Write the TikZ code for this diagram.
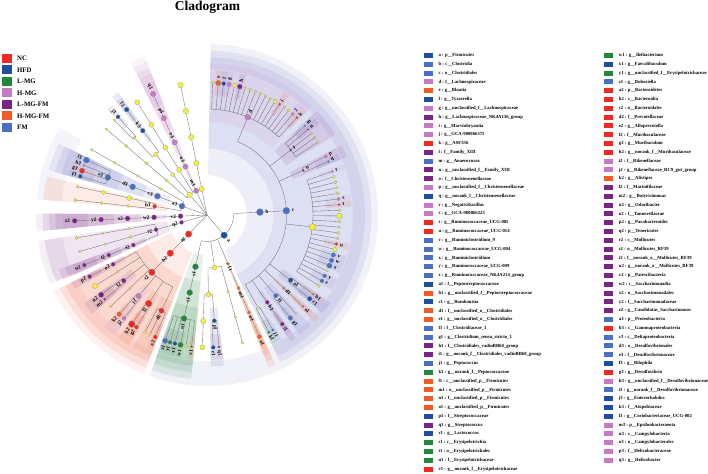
\documentclass[tikz,border=0pt]{standalone}
\usepackage{fontspec}
\setmainfont{Liberation Serif}
\usetikzlibrary{calc}
\pgfdeclarelayer{bgw}
\pgfdeclarelayer{sect}
\pgfdeclarelayer{bg}
\pgfsetlayers{bgw,sect,bg,main}
\definecolor{cNC}{HTML}{EE2A24}
\definecolor{cHFD}{HTML}{1F4E9E}
\definecolor{cLMG}{HTML}{22873A}
\definecolor{cHMG}{HTML}{C27BC4}
\definecolor{cLMGFM}{HTML}{7A2487}
\definecolor{cHMGFM}{HTML}{F15A29}
\definecolor{cFM}{HTML}{4A70C2}
\definecolor{cY}{HTML}{F2F23A}
% sector tints
\definecolor{sNC}{HTML}{EE4A26}
\definecolor{sFM}{HTML}{6468C4}
\definecolor{sHFD}{HTML}{3A46A0}
\tikzset{
 tnode/.style={circle,draw=black!45,line width=0.2pt,inner sep=0pt},
 edge/.style={draw=black!55,line width=0.35pt},
 lab/.style={font=\bfseries\fontsize{5.2}{5.8}\selectfont,inner sep=0.2pt,text=black},
 sec/.style={opacity=0.11},
 secp/.style={opacity=0.07},
 lgsw/.style={rectangle,inner sep=0pt,minimum width=9pt,minimum height=5pt},
 lgtext/.style={font=\bfseries\fontsize{4.7}{5.3}\selectfont,anchor=west,inner sep=0pt},
 grsw/.style={rectangle,inner sep=0pt,minimum width=10pt,minimum height=9pt},
 grtext/.style={font=\bfseries\fontsize{6.8}{8}\selectfont,anchor=west,inner sep=0pt},
}
% tree node + radial edge from parent arc
\newcommand\Tn[5]{\node[tnode,fill=#5,minimum size=#4*2pt] (#1) at (#2:{26.5*#3}) {};%
 \begin{pgfonlayer}{bg}\coordinate (#1-j) at (#2:{26.5*(#3-1)});\draw[edge] (#1-j) -- (#1);\end{pgfonlayer}}
\newcommand\Tl[3]{\ifdim #2pt<90pt \node[lab,rotate={0-(#2)},anchor=west] (L#1) at (#2:{#3}) {#1};%
 \else \node[lab,rotate={180-(#2)},anchor=east] (L#1) at (#2:{#3}) {#1};\fi}
\newcommand\Sig[5]{\Tn{#1}{#2}{#3}{#4}{#5}\Tl{#1}{#2}{26.5*#3+#4+1.8}}
\newcommand\Yel[4]{\Tn{#1}{#2}{#3}{#4}{cY}}
\newcommand\Ar[3]{\begin{pgfonlayer}{bg}\draw[edge] (#1:{26.5*#3}) arc[start angle=#1,end angle=#2,radius={26.5*#3}];\end{pgfonlayer}}
\newcommand\SecR[6]{\begin{pgfonlayer}{sect}\fill[#1,#6] ({#2}:{#4}) arc[start angle={#2},end angle={#3},radius={#4}] -- ({#3}:{#5}) arc[start angle={#3},end angle={#2},radius={#5}] -- cycle;\end{pgfonlayer}}
\newcommand\Sec[4]{\SecR{#1}{#2}{#3}{max(26.5*#4-13,40)}{145+(5-#4)*6.5}{sec}}
\newcommand\Gs[2]{\Sec{#1}{#2-1.2}{#2+1.2}{5}}
\newcommand\SecP[3]{\SecR{#1}{#2}{#3}{146}{171}{secp}}
\begin{document}
\begin{tikzpicture}[x=1pt,y=-1pt]
\begin{pgfonlayer}{bgw}\fill[white] (0,0) rectangle (708,473);\end{pgfonlayer}
\useasboundingbox (0,0) rectangle (708,473);
\node[font=\bfseries\fontsize{13.5}{15}\selectfont,inner sep=0pt] (title) at (207.5,7) {Cladogram};
% group legend
\foreach \c/\t [count=\i from 0] in {cNC/NC,cHFD/HFD,cLMG/L-MG,cHMG/H-MG,cLMGFM/L-MG-FM,cHMGFM/H-MG-FM,cFM/FM}{
 \node[grsw,fill=\c] (gs\i) at (7,58.3+11.5*\i) {};
 \node[grtext] (gt\i) at (17,58.3+11.5*\i) {\t};
}
% taxon legend, column 1
\foreach \c/\t [count=\i from 0] in {
cHFD/{a : p\_\_Firmicutes},
cFM/{b : c\_\_Clostridia},
cFM/{c : o\_\_Clostridiales},
cHMG/{d : f\_\_Lachnospiraceae},
cHMGFM/{e : g\_\_Blautia},
cHFD/{f : g\_\_Tyzzerella},
cHMG/{g : g\_\_unclassified\_f\_\_Lachnospiraceae},
cLMGFM/{h : g\_\_Lachnospiraceae\_NK4A136\_group},
cHMG/{i : g\_\_Marvinbryantia},
cHMG/{j : g\_\_GCA-900066575},
cNC/{k : g\_\_ASF356},
cLMGFM/{l : f\_\_Family\_XIII},
cFM/{m : g\_\_Anaerovorax},
cLMGFM/{n : g\_\_unclassified\_f\_\_Family\_XIII},
cLMGFM/{o : f\_\_Christensenellaceae},
cHMG/{p : g\_\_unclassified\_f\_\_Christensenellaceae},
cHFD/{q : g\_\_norank\_f\_\_Christensenellaceae},
cHMG/{r : g\_\_Negativibacillus},
cHMG/{s : g\_\_GCA-900066225},
cNC/{t : g\_\_Ruminococcaceae\_UCG-005},
cNC/{u : g\_\_Ruminococcaceae\_UCG-014},
cFM/{v : g\_\_Ruminiclostridium\_9},
cFM/{w : g\_\_Ruminococcaceae\_UCG-004},
cFM/{x : g\_\_Ruminiclostridium},
cFM/{y : g\_\_Ruminococcaceae\_UCG-009},
cFM/{z : g\_\_Ruminococcaceae\_NK4A214\_group},
cHFD/{a1 : f\_\_Peptostreptococcaceae},
cHMGFM/{b1 : g\_\_unclassified\_f\_\_Peptostreptococcaceae},
cHFD/{c1 : g\_\_Romboutsia},
cHMGFM/{d1 : f\_\_unclassified\_o\_\_Clostridiales},
cHMGFM/{e1 : g\_\_unclassified\_o\_\_Clostridiales},
cFM/{f1 : f\_\_Clostridiaceae\_1},
cFM/{g1 : g\_\_Clostridium\_sensu\_stricto\_1},
cLMGFM/{h1 : f\_\_Clostridiales\_vadinBB60\_group},
cLMGFM/{i1 : g\_\_norank\_f\_\_Clostridiales\_vadinBB60\_group},
cFM/{j1 : g\_\_Peptococcus},
cLMG/{k1 : g\_\_norank\_f\_\_Peptococcaceae},
cHMGFM/{l1 : c\_\_unclassified\_p\_\_Firmicutes},
cHMGFM/{m1 : o\_\_unclassified\_p\_\_Firmicutes},
cHMGFM/{n1 : f\_\_unclassified\_p\_\_Firmicutes},
cHMGFM/{o1 : g\_\_unclassified\_p\_\_Firmicutes},
cHFD/{p1 : f\_\_Streptococcaceae},
cLMGFM/{q1 : g\_\_Streptococcus},
cHFD/{r1 : g\_\_Lactococcus},
cLMG/{s1 : c\_\_Erysipelotrichia},
cLMG/{t1 : o\_\_Erysipelotrichales},
cLMG/{u1 : f\_\_Erysipelotrichaceae},
cNC/{v1 : g\_\_norank\_f\_\_Erysipelotrichaceae}}{
 \node[lgsw,fill=\c] (ls\i) at (428,55.5+8.8*\i) {};
 \node[lgtext] (lt\i) at (438.3,55.5+8.8*\i) {\t};
}
% taxon legend, column 2
\foreach \c/\t [count=\i from 0] in {
cLMG/{w1 : g\_\_Ileibacterium},
cHFD/{x1 : g\_\_Faecalibaculum},
cLMG/{y1 : g\_\_unclassified\_f\_\_Erysipelotrichaceae},
cFM/{z1 : g\_\_Dubosiella},
cNC/{a2 : p\_\_Bacteroidetes},
cNC/{b2 : c\_\_Bacteroidia},
cNC/{c2 : o\_\_Bacteroidales},
cNC/{d2 : f\_\_Prevotellaceae},
cNC/{e2 : g\_\_Alloprevotella},
cNC/{f2 : f\_\_Muribaculaceae},
cNC/{g2 : g\_\_Muribaculum},
cNC/{h2 : g\_\_norank\_f\_\_Muribaculaceae},
cHMG/{i2 : f\_\_Rikenellaceae},
cHMG/{j2 : g\_\_Rikenellaceae\_RC9\_gut\_group},
cHMGFM/{k2 : g\_\_Alistipes},
cLMGFM/{l2 : f\_\_Marinifilaceae},
cLMGFM/{m2 : g\_\_Butyricimonas},
cLMGFM/{n2 : g\_\_Odoribacter},
cLMGFM/{o2 : f\_\_Tannerellaceae},
cLMGFM/{p2 : g\_\_Parabacteroides},
cLMGFM/{q2 : p\_\_Tenericutes},
cLMGFM/{r2 : c\_\_Mollicutes},
cLMGFM/{s2 : o\_\_Mollicutes\_RF39},
cLMGFM/{t2 : f\_\_norank\_o\_\_Mollicutes\_RF39},
cLMGFM/{u2 : g\_\_norank\_o\_\_Mollicutes\_RF39},
cLMGFM/{v2 : p\_\_Patescibacteria},
cLMGFM/{w2 : c\_\_Saccharimonadia},
cLMGFM/{x2 : o\_\_Saccharimonadales},
cLMGFM/{y2 : f\_\_Saccharimonadaceae},
cLMGFM/{z2 : g\_\_Candidatus\_Saccharimonas},
cFM/{a3 : p\_\_Proteobacteria},
cNC/{b3 : c\_\_Gammaproteobacteria},
cFM/{c3 : c\_\_Deltaproteobacteria},
cFM/{d3 : o\_\_Desulfovibrionales},
cFM/{e3 : f\_\_Desulfovibrionaceae},
cHFD/{f3 : g\_\_Bilophila},
cNC/{g3 : g\_\_Desulfovibrio},
cHMG/{h3 : g\_\_unclassified\_f\_\_Desulfovibrionaceae},
cFM/{i3 : g\_\_norank\_f\_\_Desulfovibrionaceae},
cHFD/{j3 : g\_\_Enterorhabdus},
cHFD/{k3 : f\_\_Atopobiaceae},
cHFD/{l3 : g\_\_Coriobacteriaceae\_UCG-002},
cHMG/{m3 : p\_\_Epsilonbacteraeota},
cHMG/{n3 : c\_\_Campylobacteria},
cHMG/{o3 : o\_\_Campylobacterales},
cHMG/{p3 : f\_\_Helicobacteraceae},
cHMG/{q3 : g\_\_Helicobacter}}{
 \node[lgsw,fill=\c] (ms\i) at (608.7,55.5+8.8*\i) {};
 \node[lgtext] (mt\i) at (618.7,55.5+8.8*\i) {\t};
}
\begin{scope}[shift={(207,215)}]
\coordinate (C) at (0,0);
% ---------------- shaded sectors
\SecP{sHFD}{-88.7}{109.6}
\Sec{sFM}{-88.7}{63.4}{2}\Sec{sFM}{-88.7}{63.4}{3}
\Sec{cHMG}{-88.7}{-46.1}{4}
\Gs{cHMGFM}{-85.135}\Gs{sHFD}{-82.77}\Gs{cHMG}{-80.405}\Gs{cLMGFM}{-75.675}
\Gs{sNC}{-56.755}\Gs{cHMG}{-49.66}\Gs{sNC}{-47.3}
\Sec{cLMGFM}{-43.5}{-32.1}{4}\Gs{sFM}{-42.3}\Gs{cLMGFM}{-40.3}
\Sec{cLMGFM}{-27.4}{-22.6}{4}\Gs{cHMG}{-26.2}\Gs{sHFD}{-23.8}
\Gs{cHMG}{-19.2}\Gs{cHMG}{-6.95}\Gs{sNC}{-4.5}\Gs{sNC}{12.65}
\Gs{sFM}{17.55}\Gs{sFM}{20}\Gs{sFM}{22.45}\Gs{sFM}{27.35}\Gs{sFM}{29.8}
\Sec{sHFD}{35.5}{40.4}{4}\Gs{cHMGFM}{36.7}\Gs{sHFD}{39.2}
\Sec{cHMGFM}{42.4}{44.8}{4}\Gs{cHMGFM}{43.6}
\Sec{sFM}{46.8}{52.2}{4}\Gs{sFM}{51}
\Sec{cLMGFM}{54.2}{56.6}{4}\Gs{cLMGFM}{55.4}
\Gs{sFM}{60.2}\Gs{cLMG}{62.2}
\Sec{cHMGFM}{65.5}{67.9}{2}\Sec{cHMGFM}{65.5}{67.9}{3}\Sec{cHMGFM}{65.5}{67.9}{4}\Gs{cHMGFM}{66.7}
\Sec{sHFD}{83.6}{88.5}{4}\Gs{cLMGFM}{84.8}\Gs{sHFD}{87.3}
\Sec{cLMG}{95.5}{109.6}{2}\Sec{cLMG}{95.5}{109.6}{3}\Sec{cLMG}{95.5}{109.6}{4}
\Gs{sNC}{96.7}\Gs{cLMG}{101.5}\Gs{sHFD}{104}\Gs{cLMG}{106.2}\Gs{sFM}{108.4}
\SecP{sNC}{111.8}{153.5}\Sec{sNC}{111.8}{153.5}{2}\Sec{sNC}{111.8}{153.5}{3}
\Sec{sNC}{111.8}{119.1}{4}\Gs{sNC}{113}
\Sec{sNC}{121}{125.8}{4}\Gs{sNC}{122.2}\Gs{sNC}{124.6}
\Sec{cHMG}{127.6}{132.7}{4}\Gs{cHMG}{128.8}\Gs{cHMGFM}{131.5}
\Sec{cLMGFM}{139.3}{144.2}{4}\Gs{cLMGFM}{140.5}\Gs{cLMGFM}{143}
\Sec{cLMGFM}{150.8}{153.8}{4}\Gs{cLMGFM}{152.3}
\SecP{cLMGFM}{156.3}{171.2}\Sec{cLMGFM}{156.3}{171.2}{2}
\Sec{cLMGFM}{155.8}{159.8}{3}\Sec{cLMGFM}{155.8}{159.8}{4}\Sec{cLMGFM}{155.8}{159.8}{5}
\SecP{cLMGFM}{174.5}{180.5}\Sec{cLMGFM}{174.5}{180.5}{2}\Sec{cLMGFM}{174.5}{180.5}{3}\Sec{cLMGFM}{174.5}{180.5}{4}\Sec{cLMGFM}{174.5}{180.5}{5}
\SecP{sFM}{185.3}{210.7}
\Sec{sNC}{185.3}{193.5}{2}
\Sec{sFM}{195.8}{205.7}{2}\Sec{sFM}{195.8}{205.7}{3}\Sec{sFM}{195.8}{205.7}{4}
\Gs{sHFD}{197}\Gs{sNC}{199.5}\Gs{cHMG}{202}\Gs{sFM}{204.5}
\Gs{sHFD}{227.8}\Sec{sHFD}{231.3}{234.1}{4}\Gs{sHFD}{232.7}
\SecP{cHMG}{243.5}{248.5}\Sec{cHMG}{243.5}{248.5}{2}\Sec{cHMG}{243.5}{248.5}{3}\Sec{cHMG}{243.5}{248.5}{4}\Sec{cHMG}{243.5}{248.5}{5}
% ---------------- Firmicutes
\Sig{a}{49.7}{1}{3.3}{cHFD}
\Ar{-3.1}{102.55}{1}
\Sig{b}{-3.1}{2}{3.5}{cFM}
\Sig{c}{-3.1}{3}{3.5}{cFM}
\Ar{-67.4}{61.2}{3}
\Sig{d}{-67.4}{4}{3}{cHMG}
\Ar{-87.5}{-47.3}{4}
\Yel{Ya0}{-87.5}{5}{1.5}
\Sig{e}{-85.135}{5}{2.7}{cHMGFM}
\Sig{f}{-82.77}{5}{2}{cHFD}
\Sig{g}{-80.405}{5}{2.3}{cHMG}
\Yel{Ya4}{-78.04}{5}{2}
\Sig{h}{-75.675}{5}{2.5}{cLMGFM}
\foreach \k in {6,...,11}{\Yel{Ya\k}{-87.5+2.365*\k}{5}{1.4}}
\Yel{Ya12}{-59.12}{5}{2}
\Sig{i}{-56.755}{5}{1.3}{cNC}
\Yel{Ya14}{-54.39}{5}{1.5}
\Yel{Ya15}{-52.025}{5}{1.5}
\Sig{j}{-49.66}{5}{1.7}{cHMG}
\Sig{k}{-47.3}{5}{1.3}{cNC}
\Sig{l}{-37.8}{4}{1.3}{cLMGFM}
\Ar{-42.3}{-33.3}{4}
\Sig{m}{-42.3}{5}{1}{cFM}
\Sig{n}{-40.3}{5}{1}{cLMGFM}
\Yel{Yb1}{-38}{5}{1.3}\Yel{Yb2}{-35.7}{5}{1.3}\Yel{Yb3}{-33.3}{5}{1.3}
\Sig{o}{-25}{4}{1.3}{cLMGFM}
\Ar{-26.2}{-23.8}{4}
\Sig{p}{-26.2}{5}{1.7}{cHMG}
\Sig{q}{-23.8}{5}{1}{cHFD}
\Yel{Yrum}{6.5}{4}{3.3}
\Ar{-19.2}{32.25}{4}
\Sig{r}{-19.2}{5}{1.3}{cHMG}
\Yel{Yr1}{-16.75}{5}{1.5}\Yel{Yr2}{-14.3}{5}{1.5}\Yel{Yr3}{-11.85}{5}{1.3}\Yel{Yr4}{-9.4}{5}{1.7}
\Sig{s}{-6.95}{5}{1.7}{cHMG}
\Sig{t}{-4.5}{5}{1.3}{cNC}
\Yel{Yr7}{-2.05}{5}{1.5}\Yel{Yr8}{0.4}{5}{2.7}\Yel{Yr9}{2.85}{5}{1.5}\Yel{Yr10}{5.3}{5}{1.3}
\Yel{Yr11}{7.75}{5}{1.5}\Yel{Yr12}{10.2}{5}{1.3}
\Sig{u}{12.65}{5}{1.7}{cNC}
\Yel{Yr14}{15.1}{5}{2.2}
\Sig{v}{17.55}{5}{2.3}{cFM}
\Sig{w}{20}{5}{2.3}{cFM}
\Sig{x}{22.45}{5}{2.7}{cFM}
\Yel{Yr18}{24.9}{5}{1.3}
\Sig{y}{27.35}{5}{2}{cFM}
\Sig{z}{29.8}{5}{2}{cFM}
\Yel{Yr21}{32.25}{5}{1.5}
\Sig{a1}{37.95}{4}{2.3}{cHFD}
\Ar{36.7}{39.2}{4}
\Sig{b1}{36.7}{5}{1.3}{cHMGFM}
\Sig{c1}{39.2}{5}{2.3}{cHFD}
\Sig{d1}{43.6}{4}{1.3}{cHMGFM}
\Sig{e1}{43.6}{5}{1.3}{cHMGFM}
\Sig{f1}{49.5}{4}{2.3}{cFM}
\Ar{48}{51}{4}
\Yel{Yf1}{48}{5}{1.2}
\Sig{g1}{51}{5}{2.3}{cFM}
\Sig{h1}{55.4}{4}{2}{cLMGFM}
\Sig{i1}{55.4}{5}{2}{cLMGFM}
\Yel{Ypep}{61.2}{4}{1.5}
\Ar{60.2}{62.2}{4}
\Sig{j1}{60.2}{5}{1.5}{cFM}
\Sig{k1}{62.2}{5}{1.5}{cLMG}
\Sig{l1}{66.7}{2}{1.7}{cHMGFM}
\Sig{m1}{66.7}{3}{1.7}{cHMGFM}
\Sig{n1}{66.7}{4}{1.7}{cHMGFM}
\Sig{o1}{66.7}{5}{2}{cHMGFM}
\Yel{Ybac}{81.75}{2}{2.5}
\Ar{74.5}{89}{2}
\Yel{Ybo1}{74.5}{3}{1.5}\Yel{Ybf1}{74.5}{4}{1.5}\Yel{Ybg1}{74.5}{5}{1.5}
\Yel{Ybo2}{89}{3}{2.5}
\Ar{86.05}{92}{3}
\Sig{p1}{86.05}{4}{2}{cHFD}
\Ar{84.8}{87.3}{4}
\Sig{q1}{84.8}{5}{1.3}{cLMGFM}
\Sig{r1}{87.3}{5}{2}{cHFD}
\Yel{Ybf2}{92}{4}{2.7}\Yel{Ybg2}{92}{5}{2.5}
\Sig{s1}{102.55}{2}{3}{cLMG}
\Sig{t1}{102.55}{3}{3}{cLMG}
\Sig{u1}{102.55}{4}{3}{cLMG}
\Ar{96.7}{108.4}{4}
\Sig{v1}{96.7}{5}{1.3}{cNC}
\Yel{Yery}{99.1}{5}{1.7}
\Sig{w1}{101.5}{5}{2.7}{cLMG}
\Sig{x1}{104}{5}{2}{cHFD}
\Sig{y1}{106.2}{5}{2}{cLMG}
\Sig{z1}{108.4}{5}{2.7}{cFM}
% ---------------- Bacteroidetes
\Sig{a2}{133.9}{1}{3.3}{cNC}
\Sig{b2}{133.9}{2}{3.3}{cNC}
\Sig{c2}{133.9}{3}{3.3}{cNC}
\Ar{115.45}{152.3}{3}
\Sig{d2}{115.45}{4}{2.7}{cNC}
\Ar{113}{117.9}{4}
\Sig{e2}{113}{5}{2}{cNC}
\Yel{Yd1}{115.5}{5}{1.3}\Yel{Yd2}{117.9}{5}{1.5}
\Sig{f2}{123.4}{4}{3.3}{cNC}
\Ar{122.2}{124.6}{4}
\Sig{g2}{122.2}{5}{2}{cNC}
\Sig{h2}{124.6}{5}{3.3}{cNC}
\Sig{i2}{130.15}{4}{2.7}{cHMG}
\Ar{128.8}{131.5}{4}
\Sig{j2}{128.8}{5}{2}{cHMG}
\Sig{k2}{131.5}{5}{2.3}{cHMGFM}
\Yel{Ybx}{136.5}{4}{1.3}\Yel{Ybxg}{136.5}{5}{1.3}
\Sig{l2}{141.75}{4}{2.3}{cLMGFM}
\Ar{140.5}{143}{4}
\Sig{m2}{140.5}{5}{1.3}{cLMGFM}
\Sig{n2}{143}{5}{2.7}{cLMGFM}
\Yel{Ybf}{147.6}{4}{1.5}\Yel{Ybfg}{147.6}{5}{2.5}
\Sig{o2}{152.3}{4}{2}{cLMGFM}
\Sig{p2}{152.3}{5}{2}{cLMGFM}
% ---------------- Tenericutes
\Sig{q2}{163.9}{1}{2}{cLMGFM}
\Sig{r2}{163.9}{2}{2}{cLMGFM}
\Ar{157.8}{170}{2}
\Sig{s2}{157.8}{3}{2}{cLMGFM}
\Sig{t2}{157.8}{4}{2}{cLMGFM}
\Sig{u2}{157.8}{5}{2}{cLMGFM}
\Yel{Yt1}{164}{3}{1.5}\Yel{Yt2}{164}{4}{1.3}\Yel{Yt3}{164}{5}{1.3}
\Yel{Yt4}{170}{3}{1.3}\Yel{Yt5}{170}{4}{1.3}\Yel{Yt6}{170}{5}{1.5}
% ---------------- Patescibacteria
\Sig{v2}{177.5}{1}{2.5}{cLMGFM}
\Sig{w2}{177.5}{2}{2.5}{cLMGFM}
\Sig{x2}{177.5}{3}{2.5}{cLMGFM}
\Sig{y2}{177.5}{4}{2.5}{cLMGFM}
\Sig{z2}{177.5}{5}{2.5}{cLMGFM}
% ---------------- Proteobacteria
\Sig{a3}{199.45}{1}{3}{cFM}
\Ar{189.4}{209.5}{1}
\Sig{b3}{189.4}{2}{2}{cNC}
\Ar{186.5}{192.3}{2}
\Yel{Yp1}{186.5}{3}{1.5}\Yel{Yp2}{186.5}{4}{1.5}\Yel{Yp3}{186.5}{5}{1.7}
\Yel{Yp4}{192.3}{3}{2.5}\Yel{Yp5}{192.3}{4}{2}\Yel{Yp6}{192.3}{5}{1.5}
\Sig{c3}{200.75}{2}{3}{cFM}
\Sig{d3}{200.75}{3}{3}{cFM}
\Sig{e3}{200.75}{4}{3}{cFM}
\Ar{197}{204.5}{4}
\Sig{f3}{197}{5}{2}{cHFD}
\Sig{g3}{199.5}{5}{2.7}{cNC}
\Sig{h3}{202}{5}{1.3}{cHMG}
\Sig{i3}{204.5}{5}{3}{cFM}
\Yel{Yp7}{209.5}{2}{1.5}\Yel{Yp8}{209.5}{3}{1.5}\Yel{Yp9}{209.5}{4}{1.5}\Yel{Yp10}{209.5}{5}{1.5}
% ---------------- Actinobacteria
\Yel{Yac}{229.4}{1}{2.7}
\Ar{220.5}{238.3}{1}
\Yel{Yac1}{220.5}{2}{1.7}\Yel{Yac2}{220.5}{3}{1.7}\Yel{Yac3}{220.5}{4}{1.7}\Yel{Yac4}{220.5}{5}{1.3}
\Yel{Yco}{229.7}{2}{2}\Yel{Yco2}{229.7}{3}{2}
\Ar{226.75}{232.7}{3}
\Yel{Yeg}{226.75}{4}{1.5}
\Ar{225.7}{227.8}{4}
\Yel{Yeg1}{225.7}{5}{1.3}
\Sig{j3}{227.8}{5}{2}{cHFD}
\Sig{k3}{232.7}{4}{2.3}{cHFD}
\Sig{l3}{232.7}{5}{2.3}{cHFD}
\Yel{Yac5}{238.3}{2}{2.5}\Yel{Yac6}{238.3}{3}{2.5}\Yel{Yac7}{238.3}{4}{2.5}\Yel{Yac8}{238.3}{5}{2.5}
% ---------------- Epsilonbacteraeota
\Sig{m3}{246}{1}{2.7}{cHMG}
\Sig{n3}{246}{2}{2.7}{cHMG}
\Sig{o3}{246}{3}{2.7}{cHMG}
\Sig{p3}{246}{4}{2.7}{cHMG}
\Sig{q3}{246}{5}{2.7}{cHMG}
% ---------------- other phylum
\Yel{Yde1}{258.5}{1}{2.7}\Yel{Yde2}{258.5}{2}{2.7}\Yel{Yde3}{258.5}{3}{2.7}\Yel{Yde4}{258.5}{4}{2.7}\Yel{Yde5}{258.5}{5}{2.7}
\end{scope}
\end{tikzpicture}
\end{document}
